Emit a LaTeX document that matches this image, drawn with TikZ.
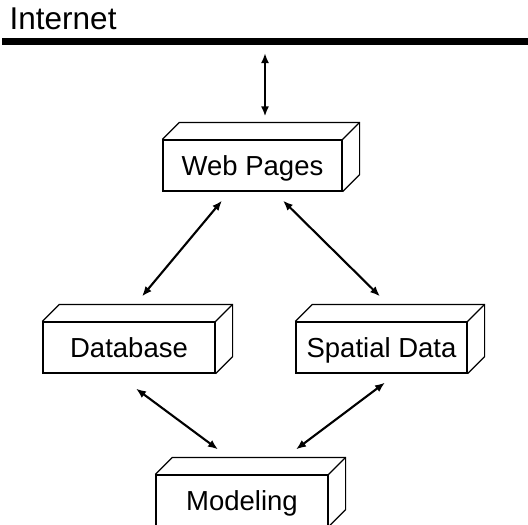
\documentclass[tikz,border=0pt]{standalone}
\usepackage{fontspec}
\setmainfont{Liberation Sans}
\usetikzlibrary{arrows.meta,calc}

\begin{document}
\begin{tikzpicture}[x=1pt,y=-1pt,
  block/.style={draw, line width=1.2pt, fill=white, inner sep=0pt,
    minimum width=172pt, minimum height=51pt,
    text height=20pt, text depth=0pt, font=\fontsize{27.5}{30}\selectfont},
  face/.style={line width=1.2pt, line join=miter},
  link/.style={line width=2.1pt, {Latex[length=10pt,width=8pt]}-{Latex[length=10pt,width=8pt]}}
]
\useasboundingbox (0,0) rectangle (528,525);
\clip (0,0) rectangle (528,525);

% network bus
\node[anchor=base west, inner sep=0pt, font=\fontsize{31.5}{34}\selectfont] (nettext) at (9.5,29.5) {Internet};
\draw[line width=6.5pt] (2,41.5) coordinate (busL) -- (528,41.5) coordinate (busR);
\coordinate (port) at (265,53);

% components
\node[block, minimum width=179pt] (web) at (252.5,165.5) {Web Pages};
\node[block] (db)  at (129,347.5) {Database};
\node[block, minimum width=171pt] (sp)  at (381.5,347.5) {Spatial Data};
\node[block] (mod) at (242,500.5) {Modeling};

% extruded top and side faces
\foreach \n in {web,db,sp,mod} {
  \draw[face] (\n.north west) -- ++(17pt,17pt) -| ($(\n.south east)+(17pt,17pt)$) -- (\n.south east);
  \draw[face] (\n.north east) -- ++(17pt,17pt);
}

% links
\draw[link] (port) -- ($(web.north)+(12.5,-23)$);
\draw[link] ($(web.south)+(-30.5,9)$) -- ($(db.north)+(13,-25)$);
\draw[link] ($(web.south)+(30.5,9)$) -- ($(sp.north)+(-1.5,-25)$);
\draw[link] ($(db.south)+(7,15)$) -- ($(mod.north)+(-24,-25)$);
\draw[link] ($(sp.south)+(3.5,9)$) -- ($(mod.north)+(54,-25)$);
\end{tikzpicture}
\end{document}
